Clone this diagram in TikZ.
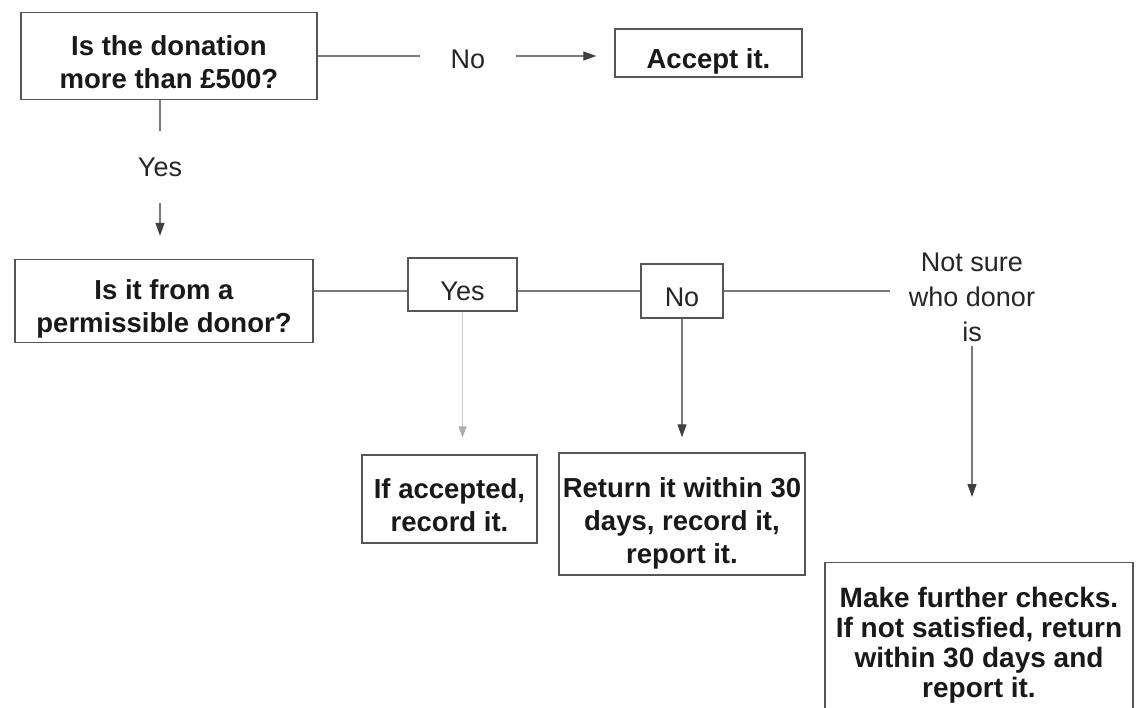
\documentclass[tikz,border=0pt]{standalone}
\usepackage{fontspec}
\setmainfont{Liberation Sans}
\usetikzlibrary{arrows.meta}
\definecolor{boxc}{HTML}{555555}
\definecolor{linec}{HTML}{7A7A7A}
\newcommand{\topstrutx}{\rule{0pt}{40pt}}
\newcommand{\botstrutx}{\rule[-8pt]{0pt}{8pt}}
\newcommand{\midbotx}{\rule[-10pt]{0pt}{10pt}}
\newcommand{\longbotx}{\rule[-40pt]{0pt}{40pt}}
\tikzset{
  bbox/.style={draw=boxc, line width=1.4pt, align=center, inner sep=0pt,
    font=\bfseries\fontsize{27.5}{33}\selectfont, text=black!90},
  lab/.style={align=center, inner sep=0pt, font=\fontsize{27}{35}\selectfont, text=black!85},
  labbox/.style={lab, draw=boxc, line width=1.4pt},
  conn/.style={draw=linec, line width=1.2pt},
  arr/.style={conn, -{Triangle[length=13pt,width=9pt,color=black!75]}},
}
\begin{document}
\begin{tikzpicture}[x=1pt,y=-1pt]
\clip (0,0) rectangle (1138,708);
\fill[white] (0,0) rectangle (1138,708);

% top row
\node[bbox, minimum width=296pt, minimum height=87pt] (q1) at (169,56) {\topstrutx Is the donation\\more than £500?\botstrutx};
\node[lab, inner xsep=31pt] (no1) at (468,59) {No};
\node[bbox, minimum width=187pt, minimum height=46pt] (acc) at (708.5,53) {\topstrutx Accept it.\botstrutx};
\draw[conn] (q1.east) -- (no1.west |- q1.east);
\draw[arr, shorten >=18pt] (no1.east |- q1.east) -- (acc.west |- q1.east);

% yes down
\node[lab, inner ysep=26pt] (y1) at (160,167) {Yes};
\draw[conn] (q1.south -| y1) -- (y1.north);
\node[bbox, minimum width=298pt, minimum height=80pt] (q2) at (164,301) {\topstrutx Is it from a\\permissible donor?\midbotx};
\draw[arr, shorten >=23pt] (y1.south) -- (q2.north -| y1);

% second row
\node[labbox, minimum width=109pt, minimum height=53pt] (yb) at (462.5,284.5) {\topstrutx Yes\botstrutx};
\node[labbox, minimum width=82pt, minimum height=54pt] (nb) at (682,291) {\topstrutx No\botstrutx};
\node[lab, inner xsep=19pt, inner ysep=4pt] (ns) at (972,297) {Not sure\\who donor\\is};
\draw[conn] (q2.east |- nb) -- (yb.west |- nb);
\draw[conn] (yb.east |- nb) -- (nb.west);
\draw[conn] (nb.east) -- (ns.west |- nb);

% bottom row
\node[bbox, minimum width=175pt, minimum height=88pt] (ac) at (449.5,499) {\topstrutx If accepted,\\record it.\botstrutx};
\node[bbox, minimum width=246pt, minimum height=122pt] (rt) at (682,514) {\topstrutx Return it within 30\\days, record it,\\report it.\botstrutx};
\node[bbox, anchor=north, minimum width=308pt, inner ysep=5pt,
  font=\bfseries\fontsize{28}{30}\selectfont] (fin) at (979,562)
  {\topstrutx Make further checks.\\If not satisfied, return\\within 30 days and\\report it.\longbotx};

\draw[conn, draw=gray!40, -{Triangle[length=11pt,width=8pt,color=gray!65]}, shorten >=17pt] (yb.south) -- (ac.north -| yb);
\draw[arr, shorten >=15pt] (nb.south) -- (rt.north -| nb);
\draw[arr, shorten >=65pt] (ns.south) -- (fin.north -| ns);
\end{tikzpicture}
\end{document}
